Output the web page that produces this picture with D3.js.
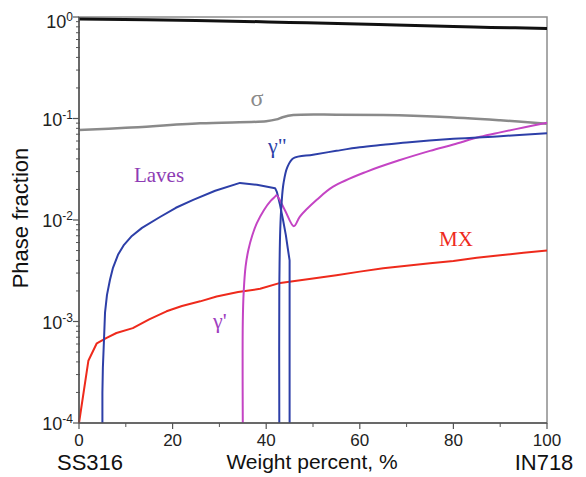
<!DOCTYPE html>
<html>
<head>
<meta charset="utf-8">
<script src="https://cdn.jsdelivr.net/npm/d3@7"></script>
<style>
  body { margin: 0; background: #fff; }
  text { font-family: "Liberation Sans", Arial, sans-serif; }
  .lbl { font-family: "Liberation Serif", "Times New Roman", serif; }
</style>
</head>
<body>
<svg id="chart"></svg>
<script>
var width = 586, height = 477;
var margin = { top: 17, right: 39, bottom: 54, left: 79 };

// phase fraction curves, [weight percent IN718, fraction]
var matrix = [[0, 0.955], [25, 0.925], [45, 0.885], [64, 0.845], [80, 0.805], [88, 0.79], [100, 0.772]];
var sigma = [[0, 0.077], [10, 0.081], [25.9, 0.0897], [40, 0.094], [42.2, 0.098], [43.5, 0.103], [45.8, 0.108],
    [55, 0.109], [65, 0.108], [77, 0.104], [90, 0.096], [100, 0.089]];
var laves = [[5.0, 1e-4], [5.0, 2e-4], [5.1, 3.5e-4], [5.34, 6.6e-4], [5.56, 1.22e-3], [5.98, 1.83e-3],
    [6.62, 2.58e-3], [7.26, 3.38e-3], [8.33, 4.54e-3], [9.62, 5.69e-3], [11.3, 6.97e-3], [13.46, 8.36e-3],
    [17.3, 0.0107], [20.7, 0.0132], [24.4, 0.0158], [29.1, 0.0194], [34.4, 0.0232], [38, 0.0222], [41.9, 0.0206],
    [42.3, 0.0188], [42.95, 0.0141], [43.6, 0.0100], [44.2, 7.1e-3], [44.6, 5.3e-3], [45, 4e-3], [45, 1e-4]];
var gamma2 = [[42.8, 1e-4], [42.8, 2e-3], [43.0, 8e-3], [43.3, 0.015], [43.7, 0.023], [44.5, 0.033], [45.8, 0.0406],
    [50, 0.044], [55, 0.048], [60, 0.052], [65, 0.055], [70, 0.058], [80, 0.063], [90, 0.067], [100, 0.0715]];
var gamma1 = [[35.0, 1e-4], [35.0, 1e-3], [35.2, 2e-3], [35.6, 3.5e-3], [36.2, 5.1e-3], [37.0, 7e-3], [38.0, 9.3e-3],
    [39.5, 0.0125], [41.0, 0.0155], [41.9, 0.017], [42.2, 0.0175], [44.0, 0.0125], [45.9, 0.0087], [47.2, 0.0108],
    [50.8, 0.0158], [54.3, 0.0213], [61.5, 0.030], [68.6, 0.039], [75, 0.048], [80, 0.0555], [85.7, 0.066],
    [90, 0.073], [95, 0.0815], [100, 0.091]];
var mx = [[0, 1e-4], [2, 4.1e-4], [3.8, 6.1e-4], [5.9, 6.9e-4], [8, 7.7e-4], [11.5, 8.6e-4], [15, 1.05e-3],
    [18.7, 1.26e-3], [22, 1.42e-3], [25.9, 1.58e-3], [29.4, 1.76e-3], [34, 1.95e-3], [38.7, 2.1e-3], [43, 2.4e-3],
    [50, 2.65e-3], [55, 2.85e-3], [60, 3.1e-3], [65, 3.35e-3], [70, 3.55e-3], [75, 3.75e-3], [80, 3.95e-3],
    [85, 4.25e-3], [90, 4.5e-3], [95, 4.75e-3], [100, 5e-3]];

var xTicks = [0, 20, 40, 60, 80, 100];
var xMinor = [10, 30, 50, 70, 90];
var yExps = [0, -1, -2, -3, -4];

var series = [
    { data: matrix, color: '#111111', w: 3, smooth: true },
    { data: sigma, color: '#8a8a8a', w: 2.5, smooth: true },
    { data: mx, color: '#ee2a1c', w: 2, smooth: false },
    { data: laves, color: '#2d3fa8', w: 2, smooth: false },
    { data: gamma1, color: '#c444c4', w: 2, smooth: true },
    { data: gamma2, color: '#2d3fa8', w: 2, smooth: true }
];

var labels = [
    { t: 'σ', x: 257, y: 106, color: '#8a8a8a', size: 24, anchor: 'middle' },
    { t: 'γ"', x: 268, y: 153, color: '#2d3fa8', size: 22, anchor: 'start' },
    { t: 'Laves', x: 159, y: 182, color: '#8e3cb4', size: 21, anchor: 'middle' },
    { t: 'MX', x: 456, y: 246, color: '#ee2a1c', size: 21, anchor: 'middle' },
    { t: "γ'", x: 213, y: 328, color: '#a040c0', size: 22, anchor: 'start' }
];

var svg = d3.select('#chart').attr('width', width).attr('height', height);
var x = d3.scaleLinear().domain([0, 100]).range([margin.left, width - margin.right]);
var y = d3.scaleLog().domain([1e-4, 1]).range([height - margin.bottom, margin.top]);

// frame
svg.append('rect')
    .attr('x', x(0)).attr('y', y(1))
    .attr('width', x(100) - x(0)).attr('height', y(1e-4) - y(1))
    .attr('fill', 'none').attr('stroke', '#8c8c8c').attr('stroke-width', 1.5);

series.forEach(function (s) {
    var line = d3.line()
        .x(function (d) { return x(d[0]); })
        .y(function (d) { return y(d[1]); })
        .curve(s.smooth ? d3.curveCatmullRom.alpha(0.5) : d3.curveLinear);
    svg.append('path')
        .attr('d', line(s.data))
        .attr('fill', 'none')
        .attr('stroke', s.color)
        .attr('stroke-width', s.w)
        .attr('stroke-linejoin', 'round');
});

// x axis
var xAxis = svg.append('g').attr('transform', 'translate(0,' + y(1e-4) + ')');
xAxis.append('line').attr('x1', x(0)).attr('x2', x(100)).attr('stroke', '#555').attr('stroke-width', 1.5);
xAxis.selectAll('.maj').data(xTicks).enter().append('line')
    .attr('x1', x).attr('x2', x).attr('y1', 0).attr('y2', 6).attr('stroke', '#555').attr('stroke-width', 1.2);
xAxis.selectAll('.min').data(xMinor).enter().append('line')
    .attr('x1', x).attr('x2', x).attr('y1', 0).attr('y2', 4).attr('stroke', '#555').attr('stroke-width', 1);
xAxis.selectAll('.tl').data(xTicks).enter().append('text')
    .attr('x', x).attr('y', 23).attr('text-anchor', 'middle')
    .attr('font-size', 17).attr('fill', '#222')
    .text(function (d) { return d; });

// y axis
var yAxis = svg.append('g');
yAxis.append('line').attr('x1', x(0)).attr('x2', x(0)).attr('y1', y(1)).attr('y2', y(1e-4))
    .attr('stroke', '#555').attr('stroke-width', 1.5);
var minorY = [];
yExps.slice(1).forEach(function (e) {
    for (var m = 2; m <= 9; m++) minorY.push(m * Math.pow(10, e));
});
yAxis.selectAll('.ymin').data(minorY).enter().append('line')
    .attr('x1', x(0) - 3).attr('x2', x(0) + 1)
    .attr('y1', function (d) { return y(d); }).attr('y2', function (d) { return y(d); })
    .attr('stroke', '#555').attr('stroke-width', 1);
yAxis.selectAll('.ymaj').data(yExps).enter().append('line')
    .attr('x1', x(0) - 6).attr('x2', x(0))
    .attr('y1', function (d) { return y(Math.pow(10, d)); }).attr('y2', function (d) { return y(Math.pow(10, d)); })
    .attr('stroke', '#555').attr('stroke-width', 1.2);
var yl = yAxis.selectAll('.yl').data(yExps).enter().append('text')
    .attr('x', x(0) - 6)
    .attr('y', function (d) { return y(Math.pow(10, d)) + (d === 0 ? 11 : 7); })
    .attr('text-anchor', 'end').attr('font-size', 18).attr('fill', '#222');
yl.append('tspan').text('10');
yl.append('tspan').attr('dy', -7).attr('font-size', 12).text(function (d) { return d; });

// axis titles
svg.append('text').attr('transform', 'translate(28,218) rotate(-90)')
    .attr('text-anchor', 'middle').attr('font-size', 22).attr('fill', '#111').text('Phase fraction');
svg.append('text').attr('x', 312).attr('y', 469).attr('text-anchor', 'middle')
    .attr('font-size', 21).attr('fill', '#111').text('Weight percent, %');
svg.append('text').attr('x', 90).attr('y', 470).attr('text-anchor', 'middle')
    .attr('font-size', 22).attr('fill', '#111').text('SS316');
svg.append('text').attr('x', 544).attr('y', 470).attr('text-anchor', 'middle')
    .attr('font-size', 22).attr('fill', '#111').text('IN718');

// phase labels
labels.forEach(function (l) {
    svg.append('text').attr('class', 'lbl')
        .attr('x', l.x).attr('y', l.y)
        .attr('text-anchor', l.anchor)
        .attr('font-size', l.size).attr('fill', l.color)
        .text(l.t);
});
</script>
</body>
</html>
